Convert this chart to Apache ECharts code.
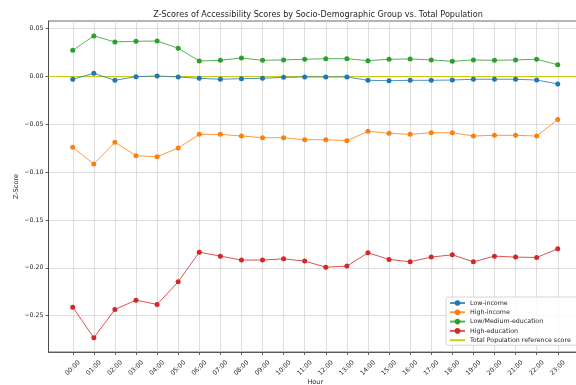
<!DOCTYPE html>
<html>
<head>
<meta charset="utf-8">
<script src="https://cdn.jsdelivr.net/npm/echarts@6/dist/echarts.min.js"></script>
<style>
  html, body { margin: 0; padding: 0; background: #fff; }
  #chart { width: 576px; height: 385px; }
</style>
</head>
<body>
<div id="chart"></div>
<script>
// Hour-of-day categories
const hours = ['00:00','01:00','02:00','03:00','04:00','05:00','06:00','07:00','08:00','09:00','10:00','11:00',
               '12:00','13:00','14:00','15:00','16:00','17:00','18:00','19:00','20:00','21:00','22:00','23:00'];

// Z-scores per group
const lowIncome = [-0.0029, 0.0033, -0.0040, -0.0002, 0.0005, -0.0005, -0.0019, -0.0029, -0.0023, -0.0019, -0.0009, -0.0005,
                   -0.0005, -0.0005, -0.0040, -0.0044, -0.0040, -0.0040, -0.0037, -0.0029, -0.0029, -0.0029, -0.0037, -0.0078];
const highIncome = [-0.0741, -0.0915, -0.0688, -0.0828, -0.0839, -0.0748, -0.0605, -0.0605, -0.0622, -0.0640, -0.0640, -0.0661,
                    -0.0661, -0.0671, -0.0573, -0.0594, -0.0605, -0.0588, -0.0588, -0.0622, -0.0615, -0.0615, -0.0622, -0.0450];
const lowMedEducation = [0.0274, 0.0424, 0.0361, 0.0368, 0.0371, 0.0295, 0.0162, 0.0169, 0.0194, 0.0169, 0.0173, 0.0180,
                         0.0186, 0.0186, 0.0165, 0.0180, 0.0183, 0.0173, 0.0159, 0.0173, 0.0169, 0.0173, 0.0180, 0.0123];
const highEducation = [-0.2411, -0.2732, -0.2435, -0.2338, -0.2383, -0.2146, -0.1836, -0.1878, -0.1919, -0.1919, -0.1906, -0.1930,
                       -0.1993, -0.1982, -0.1843, -0.1912, -0.1937, -0.1888, -0.1864, -0.1937, -0.1878, -0.1888, -0.1892, -0.1801];
const referenceScore = 0;

const yTicks = [-0.25, -0.20, -0.15, -0.10, -0.05, 0.00, 0.05];

const FONT = 'DejaVu Sans';
const TEXT = '#262626';
const hourIdx = hours.map((_, i) => i);

function pairs(arr) { return arr.map((v, i) => [i, v]); }
function fmtY(v) { return v.toFixed(2).replace('-', '\u2212'); }

function lineSeries(name, color, values) {
  return {
    name: name,
    type: 'line',
    data: pairs(values),
    symbol: 'circle',
    symbolSize: 5,
    showSymbol: true,
    itemStyle: { color: color },
    lineStyle: { color: color, width: 1, opacity: 0.8 },
    emphasis: { disabled: true },
    z: 3
  };
}

const chart = echarts.init(document.getElementById('chart'), null, { renderer: 'canvas' });

chart.setOption({
  animation: false,
  backgroundColor: '#ffffff',
  textStyle: { fontFamily: FONT },
  title: {
    text: 'Z-Scores of Accessibility Scores by Socio-Demographic Group vs. Total Population',
    left: 313,
    top: 6,
    textAlign: 'center',
    textStyle: { fontFamily: FONT, fontSize: 8.1, fontWeight: 'normal', color: TEXT }
  },
  grid: {
    left: 48.5, top: 21, width: 533.5, height: 331,
    containLabel: false,
    outerBoundsMode: 'none',
    show: true, borderColor: '#444', borderWidth: 0.8, backgroundColor: 'transparent'
  },
  xAxis: {
    type: 'value',
    min: -1.15,
    max: 24.15,
    name: 'Hour',
    nameLocation: 'middle',
    nameGap: 27,
    nameMoveOverlap: false,
    nameTextStyle: { fontFamily: FONT, fontSize: 6.5, color: TEXT },
    axisLine: { show: true, onZero: false, lineStyle: { color: '#444', width: 0.8 } },
    axisTick: { show: true, length: 3, customValues: hourIdx, lineStyle: { color: '#444', width: 0.8 } },
    axisLabel: {
      customValues: hourIdx,
      rotate: 45,
      align: 'center',
      verticalAlign: 'middle',
      fontFamily: FONT, fontSize: 6.3, color: TEXT, margin: 16,
      formatter: v => hours[Math.round(v)]
    },
    splitLine: { show: true, lineStyle: { color: '#d5d5d5', width: 0.8 } }
  },
  yAxis: {
    type: 'value',
    min: -0.288,
    max: 0.058,
    name: 'Z-Score',
    nameLocation: 'middle',
    nameRotate: 90,
    nameGap: 29,
    nameMoveOverlap: false,
    nameTextStyle: { fontFamily: FONT, fontSize: 6.5, color: TEXT },
    axisLine: { show: true, onZero: false, lineStyle: { color: '#444', width: 0.8 } },
    axisTick: { show: true, length: 3, customValues: yTicks, lineStyle: { color: '#444', width: 0.8 } },
    axisLabel: {
      customValues: yTicks,
      fontFamily: FONT, fontSize: 6.3, color: TEXT, margin: 5,
      formatter: v => fmtY(v)
    },
    splitLine: { show: true, lineStyle: { color: '#d5d5d5', width: 0.8 } }
  },
  legend: {
    orient: 'vertical',
    left: 446,
    top: 297,
    padding: [3, 40, 2, 3],
    itemGap: 3.3,
    itemWidth: 15,
    itemHeight: 7,
    backgroundColor: 'rgba(255,255,255,0.85)',
    borderColor: '#cccccc',
    borderWidth: 0.8,
    borderRadius: 2,
    textStyle: { fontFamily: FONT, fontSize: 6.3, color: TEXT },
    data: [
      'Low-income',
      'High-income',
      'Low/Medium-education',
      'High-education',
      { name: 'Total Population reference score', itemStyle: { opacity: 0 } }
    ]
  },
  series: [
    lineSeries('Low-income', '#1f77b4', lowIncome),
    lineSeries('High-income', '#ff7f0e', highIncome),
    lineSeries('Low/Medium-education', '#2ca02c', lowMedEducation),
    lineSeries('High-education', '#d62728', highEducation),
    {
      name: 'Total Population reference score',
      type: 'line',
      data: [[-1.15, referenceScore], [24.15, referenceScore]],
      symbol: 'none',
      itemStyle: { color: '#c8c800' },
      lineStyle: { color: '#c8c800', width: 1.2, opacity: 0.9 },
      emphasis: { disabled: true },
      z: 2
    }
  ]
});
</script>
</body>
</html>
